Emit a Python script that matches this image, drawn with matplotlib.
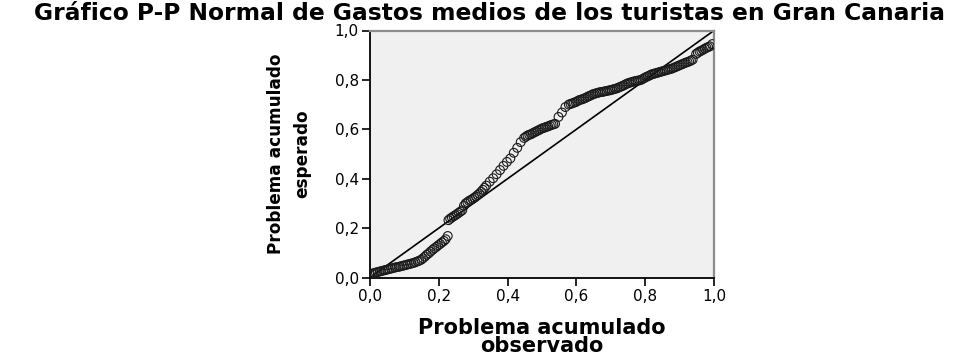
import matplotlib
matplotlib.use("Agg")
import matplotlib.pyplot as plt

# Observed cumulative probability (ranks) and expected normal cumulative probability
obs_cum = [
    0.000, 0.006, 0.011, 0.017, 0.022, 0.028, 0.033, 0.039, 0.044, 0.050, 0.055, 0.061,
    0.066, 0.072, 0.077, 0.083, 0.088, 0.094, 0.099, 0.105,
    0.110, 0.116, 0.121, 0.127, 0.132, 0.138, 0.143, 0.149, 0.154, 0.160, 0.165, 0.171,
    0.176, 0.182, 0.187, 0.193, 0.198, 0.204, 0.209, 0.215, 0.220, 0.226,
    0.228, 0.233, 0.238, 0.243, 0.248, 0.253, 0.258, 0.263, 0.268, 0.273, 0.278, 0.283,
    0.288, 0.293, 0.298, 0.303, 0.308, 0.313, 0.318, 0.323, 0.328, 0.333, 0.338,
    0.348, 0.358, 0.368, 0.378, 0.388, 0.398,
    0.408, 0.418, 0.428, 0.438, 0.448, 0.453, 0.458, 0.463, 0.468, 0.473, 0.478, 0.483,
    0.488, 0.493, 0.498, 0.503, 0.508, 0.513, 0.518, 0.523, 0.528, 0.533, 0.538,
    0.548, 0.558, 0.568, 0.578,
    0.583, 0.588, 0.593, 0.598, 0.603, 0.608, 0.613, 0.618, 0.623, 0.628, 0.633, 0.638,
    0.643, 0.648, 0.653, 0.658, 0.663, 0.668, 0.673, 0.678, 0.683, 0.688, 0.693, 0.698,
    0.703, 0.708, 0.713, 0.718, 0.723, 0.728, 0.733, 0.738, 0.743, 0.748, 0.753, 0.758,
    0.763, 0.768, 0.773, 0.778, 0.783, 0.788, 0.793,
    0.798, 0.803, 0.808, 0.813, 0.818, 0.823, 0.828, 0.833, 0.838, 0.843, 0.848, 0.853,
    0.858, 0.863, 0.868, 0.873, 0.878, 0.883, 0.888, 0.893, 0.898, 0.903, 0.908, 0.913,
    0.918, 0.923, 0.928, 0.933, 0.938, 0.948, 0.953, 0.958, 0.963, 0.968, 0.973, 0.978,
    0.983, 0.988, 0.995,
]
exp_cum = [
    0.012, 0.015, 0.018, 0.020, 0.022, 0.024, 0.026, 0.028, 0.030, 0.032, 0.034, 0.036,
    0.038, 0.040, 0.042, 0.043, 0.045, 0.047, 0.049, 0.051,
    0.053, 0.055, 0.057, 0.059, 0.062, 0.065, 0.068, 0.072, 0.078, 0.085, 0.092, 0.098,
    0.105, 0.112, 0.118, 0.124, 0.130, 0.136, 0.142, 0.148, 0.155, 0.168,
    0.232, 0.238, 0.243, 0.248, 0.252, 0.257, 0.262, 0.267, 0.272, 0.290, 0.300, 0.305,
    0.310, 0.314, 0.318, 0.323, 0.328, 0.334, 0.340, 0.347, 0.355, 0.363, 0.372,
    0.388, 0.402, 0.418, 0.435, 0.452, 0.468,
    0.482, 0.505, 0.525, 0.548, 0.565, 0.570, 0.575, 0.578, 0.580, 0.584, 0.588, 0.591,
    0.595, 0.598, 0.602, 0.605, 0.607, 0.610, 0.612, 0.615, 0.618, 0.620, 0.622,
    0.650, 0.668, 0.690, 0.700,
    0.703, 0.705, 0.708, 0.710, 0.714, 0.718, 0.720, 0.722, 0.725, 0.728, 0.732, 0.735,
    0.738, 0.742, 0.744, 0.746, 0.748, 0.750, 0.751, 0.752, 0.754, 0.755, 0.757, 0.758,
    0.760, 0.762, 0.764, 0.766, 0.769, 0.772, 0.775, 0.778, 0.782, 0.785, 0.788, 0.790,
    0.792, 0.794, 0.796, 0.797, 0.798, 0.800, 0.804,
    0.808, 0.812, 0.815, 0.818, 0.822, 0.824, 0.826, 0.828, 0.830, 0.832, 0.834, 0.836,
    0.838, 0.840, 0.842, 0.844, 0.846, 0.849, 0.852, 0.855, 0.858, 0.861, 0.864, 0.867,
    0.870, 0.872, 0.875, 0.878, 0.882, 0.905, 0.910, 0.915, 0.918, 0.922, 0.926, 0.930,
    0.933, 0.936, 0.945,
]
tick_values = [0.0, 0.2, 0.4, 0.6, 0.8, 1.0]
tick_labels = ["0,0", "0,2", "0,4", "0,6", "0,8", "1,0"]

title = "Gráfico P-P Normal de Gastos medios de los turistas en Gran Canaria"
xlabel = "Problema acumulado\nobservado"
ylabel = "Problema acumulado\nesperado"

fig = plt.figure(figsize=(9.55, 3.60), dpi=100)
fig.patch.set_facecolor("white")
ax = fig.add_axes([370 / 955, 82.5 / 360, 344 / 955, 247 / 360])
ax.set_facecolor("#F0F0F0")

# reference diagonal
ax.plot([0, 1], [0, 1], color="black", lw=1.2, zorder=2)
ax.scatter(obs_cum, exp_cum, s=40, facecolors="none", edgecolors="#1a1a1a",
           linewidths=0.8, zorder=3)

ax.set_xlim(0, 1)
ax.set_ylim(0, 1)
ax.set_xticks(tick_values)
ax.set_xticklabels(tick_labels)
ax.set_yticks(tick_values)
ax.set_yticklabels(tick_labels)
ax.tick_params(axis="both", direction="out", length=6, width=1.2, color="black",
               labelsize=11, pad=2)
for lbl in ax.get_xticklabels() + ax.get_yticklabels():
    lbl.set_family("DejaVu Sans")

for side in ("left", "bottom"):
    ax.spines[side].set_color("black")
    ax.spines[side].set_linewidth(1.3)
for side in ("top", "right"):
    ax.spines[side].set_color("#8C8C8C")
    ax.spines[side].set_linewidth(1.6)

fig.text(489 / 955, 1 - 13 / 360, title, ha="center", va="center",
         fontsize=16.8, fontweight="bold", family="DejaVu Sans")

ax.set_xlabel(xlabel, fontsize=15, fontweight="bold", family="DejaVu Sans",
              linespacing=0.9, labelpad=10)
ax.set_ylabel(ylabel, fontsize=12.2, fontweight="bold", family="DejaVu Sans",
              linespacing=1.55, labelpad=17)

fig.savefig("out.png", dpi=100, facecolor="white")
